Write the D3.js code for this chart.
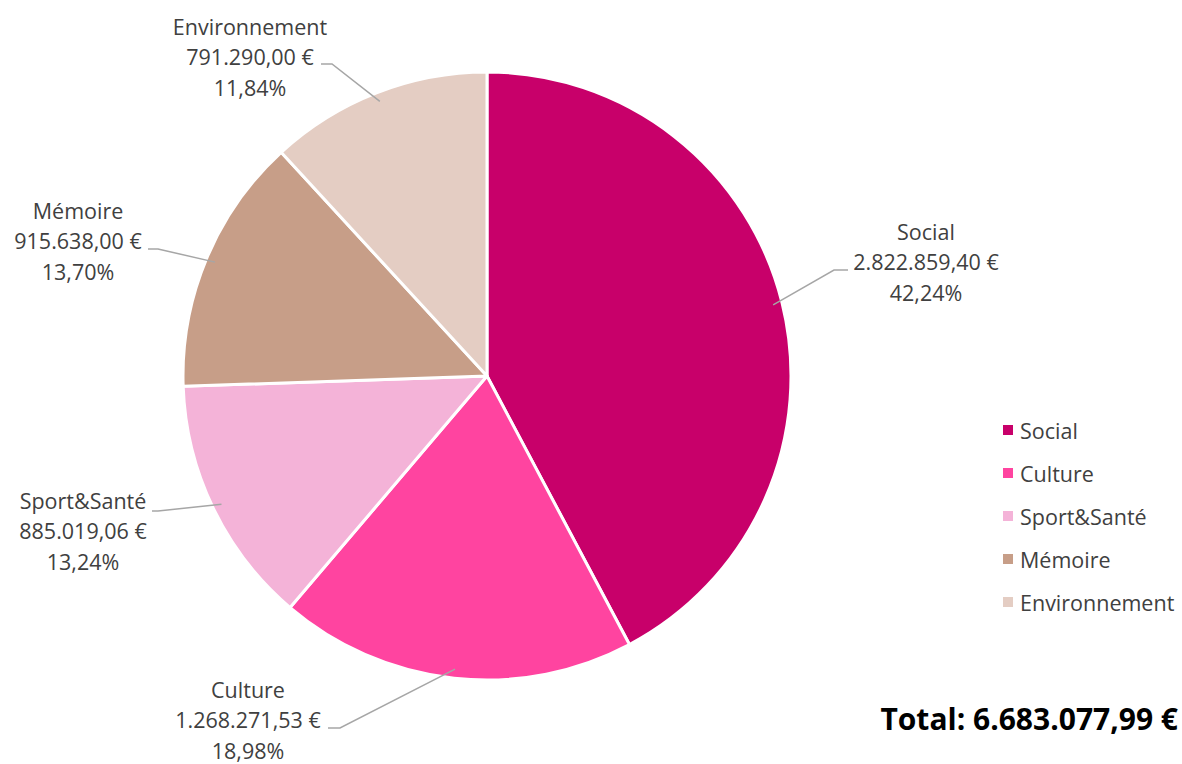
<!DOCTYPE html>
<html><head><meta charset="utf-8">
<script src="https://cdn.jsdelivr.net/npm/d3@7"></script>
<style>body{margin:0;background:#fff}svg{display:block}text{font-family:"Open Sans","Noto Sans",sans-serif}</style>
</head><body><svg id="c" width="1182" height="764"></svg>
<script>
const categories = ["Social","Culture","Sport&Santé","Mémoire","Environnement"];
const amounts = [2822859.40, 1268271.53, 885019.06, 915638.00, 791290.00];
const totalLabel = "Total: 6.683.077,99 €";

const colors = ["#C8006A","#FF44A0","#F4B3D8","#C79E88","#E4CDC3"];
// label layout: text centre x, first line y, leader start (x,y)
const labelLayout = [
  {x:926, y:231, lx:848, ly:270, hx:834},
  {x:248, y:689, lx:328, ly:728, hx:340},
  {x:83,  y:500, lx:152, ly:511, hx:158},
  {x:78,  y:210, lx:148, ly:249, hx:158},
  {x:250, y:26,  lx:321, ly:64,  hx:332}
];

const W=1182,H=764, cx=487, cy=376, R=304;
const svg=d3.select("#c");
const loc=d3.formatLocale({decimal:",",thousands:".",grouping:[3],currency:["","\u00a0€"]});
const fmtMoney=v=>loc.format(",.2f")(v)+" €";
const fmtPct=loc.format(".2%");
const total=d3.sum(amounts);
const data=categories.map((c,i)=>({name:c,value:amounts[i],color:colors[i],lab:labelLayout[i]}));

const pie=d3.pie().value(d=>d.value).sort(null);
const arcs=pie(data);
const arc=d3.arc().innerRadius(0).outerRadius(R);
const g=svg.append("g").attr("transform",`translate(${cx},${cy})`);
g.selectAll("path").data(arcs).join("path")
 .attr("d",arc).attr("fill",d=>d.data.color).attr("stroke","#fff").attr("stroke-width",3).attr("stroke-linejoin","round");

// leader lines
const inner=d3.arc().innerRadius(R*0.97).outerRadius(R*0.97);
arcs.forEach(a=>{
  const [px,py]=inner.centroid(a);
  const L=a.data.lab;
  svg.append("polyline")
   .attr("points",`${L.lx},${L.ly} ${L.hx},${L.ly} ${cx+px},${cy+py}`)
   .attr("fill","none").attr("stroke","#A6A6A6").attr("stroke-width",1.5);
  const t=svg.append("text").attr("text-anchor","middle").attr("fill","#404040").attr("font-size",21.5);
  [a.data.name, fmtMoney(a.data.value), fmtPct(a.data.value/total)].forEach((s,k)=>{
    t.append("tspan").attr("x",L.x).attr("y",L.y+k*30.5).attr("dominant-baseline","central").text(s);
  });
});

// legend
const lg=svg.append("g");
data.forEach((d,i)=>{
  const y=430+i*43;
  lg.append("rect").attr("x",1003).attr("y",y-5).attr("width",10).attr("height",10).attr("fill",d.color);
  lg.append("text").attr("x",1020).attr("y",y).attr("dominant-baseline","central").attr("fill","#404040").attr("font-size",21.5).text(d.name);
});

svg.append("text").attr("x",1178).attr("y",718).attr("dominant-baseline","central").attr("text-anchor","end")
 .attr("font-size",30).attr("font-weight","bold").attr("fill","#000").text(totalLabel);
</script></body></html>
